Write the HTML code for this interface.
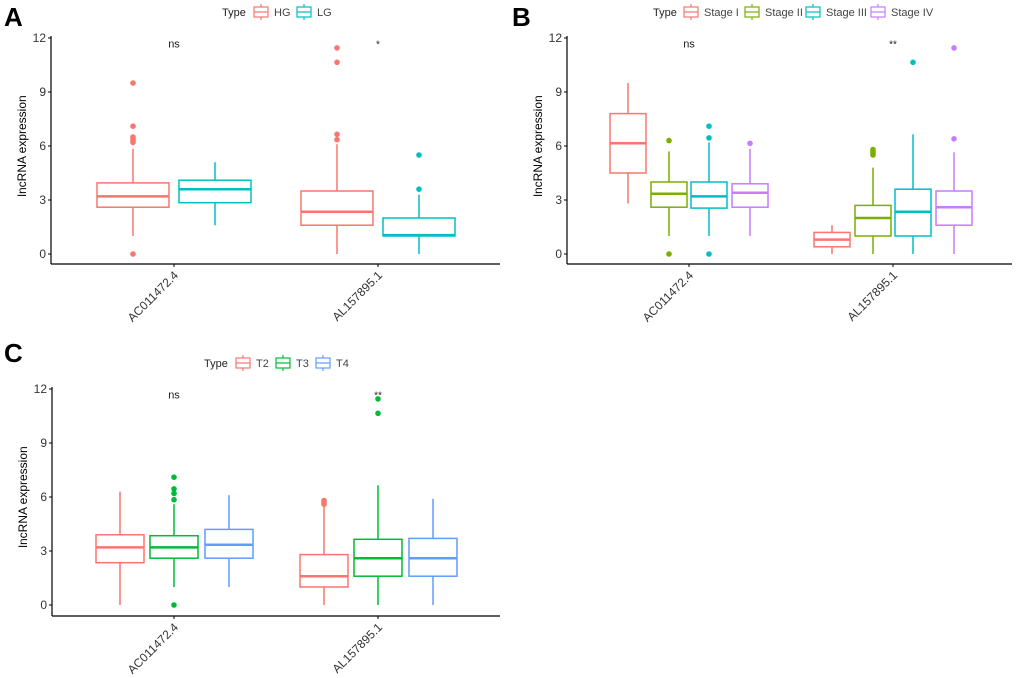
<!DOCTYPE html>
<html><head><meta charset="utf-8"><style>
body{margin:0;background:#fff;font-family:"Liberation Sans",Arial,sans-serif}
svg{display:block}
</style></head><body>
<svg id="fig" width="1020" height="678" viewBox="0 0 1020 678" xmlns="http://www.w3.org/2000/svg"></svg>
<script>
const genes = ["AC011472.4","AL157895.1"];
const yTicks = [0,3,6,9,12];
// stats per group: [low whisker, q1, median, q3, high whisker]
const aNames = ["HG","LG"];
const aStats = [[[1.0,2.6,3.2,3.95,5.85],[1.6,2.85,3.6,4.1,5.1]],[[0,1.6,2.35,3.5,6.1],[0,1.0,1.05,2.0,3.3]]];
const aOut = [[[0,6.2,6.3,6.4,6.5,7.1,9.5],[]],[[6.35,6.65,10.65,11.45],[3.6,5.5]]];
const aSig = ["ns","*"];
const bNames = ["Stage I","Stage II","Stage III","Stage IV"];
const bStats = [[[2.8,4.5,6.15,7.8,9.5],[1.0,2.6,3.35,4.0,5.7],[1.0,2.55,3.2,4.0,6.2],[1.0,2.6,3.4,3.9,5.85]],[[0,0.4,0.8,1.2,1.6],[0,1.0,2.0,2.7,4.8],[0,1.0,2.35,3.6,6.65],[0,1.6,2.6,3.5,5.65]]];
const bOut = [[[],[0,6.3],[0,6.45,7.1],[6.15]],[[],[5.5,5.6,5.7,5.8],[10.65],[6.4,11.45]]];
const bSig = ["ns","**"];
const cNames = ["T2","T3","T4"];
const cStats = [[[0,2.35,3.2,3.9,6.3],[1.0,2.6,3.2,3.85,5.6],[1.0,2.6,3.35,4.2,6.1]],[[0,1.0,1.6,2.8,5.5],[0,1.6,2.6,3.65,6.65],[0,1.6,2.6,3.7,5.9]]];
const cOut = [[[],[0,5.85,6.2,6.45,7.1],[]],[[5.6,5.7,5.8],[10.65,11.45],[]]];
const cSig = ["ns","**"];

const NS="http://www.w3.org/2000/svg";
const svg=document.getElementById('fig');
function mk(tag,attrs,parent,text){const e=document.createElementNS(NS,tag);for(const k in attrs)e.setAttribute(k,attrs[k]);if(text!==undefined)e.textContent=text;(parent||svg).appendChild(e);return e;}

function panel(cfg){
  const g=mk('g',{});
  
  
  const y=v=>cfg.y0-(cfg.y0-cfg.y12)*v/12;
  const x=i=>cfg.cx[i];
  const t=mk('text',{x:cfg.lx,y:cfg.ly,'font-size':26,'font-weight':'bold',fill:'#000'},g,cfg.letter);
  
  
  // legend
  const lg=mk('g',{},g);
  
  
  mk('text',{x:cfg.legX,y:cfg.legY+4,'font-size':11,fill:'#222'},lg,'Type');
  cfg.names.forEach((n,k)=>{
    const kx=cfg.legKeys[k];
    const e=mk('g',{},lg);
    
    
    const c=cfg.colors[k];
    mk('line',{x1:kx+7,x2:kx+7,y1:cfg.legY-8,y2:cfg.legY+8,stroke:c,'stroke-width':1.2},e);
    mk('rect',{x:kx,y:cfg.legY-5,width:14,height:10,fill:'#fff',stroke:c,'stroke-width':1.2},e);
    mk('line',{x1:kx,x2:kx+14,y1:cfg.legY,y2:cfg.legY,stroke:c,'stroke-width':1.2},e);
    mk('text',{x:kx+20,y:cfg.legY+4,'font-size':11,fill:'#444'},e,n);
  });
  // axes
  const ax=mk('g',{},g);
  
  
  mk('line',{x1:cfg.axL,x2:cfg.axL,y1:cfg.y12-2,y2:cfg.axB,stroke:'#000','stroke-width':1.2},ax);
  yTicks.forEach(v=>{
    mk('line',{x1:cfg.axL-3,x2:cfg.axL,y1:y(v),y2:y(v),stroke:'#000'},ax);
    mk('text',{x:cfg.axL-5,y:y(v)+4,'font-size':12,'text-anchor':'end',fill:'#333'},ax,v);
  });
  const yt=mk('text',{x:0,y:0,'font-size':12,'text-anchor':'middle',fill:'#000',transform:`translate(${cfg.axL-25},${(cfg.y0+cfg.y12)/2}) rotate(-90)`},g,'lncRNA expression');
  
  
  const xa=mk('g',{},g);
  
  
  mk('line',{x1:cfg.axL,x2:cfg.axR,y1:cfg.axB,y2:cfg.axB,stroke:'#000','stroke-width':1.2},xa);
  genes.forEach((gn,i)=>{
    mk('line',{x1:x(i),x2:x(i),y1:cfg.axB,y2:cfg.axB+3,stroke:'#000'},xa);
    mk('text',{x:0,y:0,'font-size':12,'text-anchor':'end',fill:'#333',transform:`translate(${x(i)+5},${cfg.axB+12}) rotate(-45)`},xa,gn);
    const s=mk('text',{x:x(i),y:y(11.7)+4,'font-size':cfg.sig[i]==='ns'?11:10,'text-anchor':'middle',fill:'#222'},g,cfg.sig[i]);
    
    
    cfg.stats[i].forEach((st,k)=>{
      const c=cfg.colors[k];
      const cx=x(i)+cfg.offs[k], w=cfg.bw;
      const b=mk('g',{},g);
      
      
      mk('line',{x1:cx,x2:cx,y1:y(st[0]),y2:y(st[1]),stroke:c,'stroke-width':1.5},b);
      mk('line',{x1:cx,x2:cx,y1:y(st[3]),y2:y(st[4]),stroke:c,'stroke-width':1.5},b);
      mk('rect',{x:cx-w/2,y:y(st[3]),width:w,height:y(st[1])-y(st[3]),fill:'#fff',stroke:c,'stroke-width':1.5},b);
      mk('line',{x1:cx-w/2,x2:cx+w/2,y1:y(st[2]),y2:y(st[2]),stroke:c,'stroke-width':2.5},b);
      cfg.out[i][k].forEach(v=>mk('circle',{cx:cx,cy:y(v),r:2.8,fill:c},b));
    });
  });
}
panel({letter:'A',lx:4,ly:26,y0:254,y12:38,axL:51,axR:500,axB:264,cx:[174,378],offs:[-41,41],bw:72,
  names:aNames,stats:aStats,out:aOut,sig:aSig,colors:['#F8766D','#00BFC4'],
  legX:222,legY:12,legKeys:[254,297]});
panel({letter:'B',lx:512,ly:26,y0:254,y12:38,axL:567,axR:1012,axB:264,cx:[689,893],offs:[-61,-20,20,61],bw:36,
  names:bNames,stats:bStats,out:bOut,sig:bSig,colors:['#F8766D','#7CAE00','#00BFC4','#C77CFF'],
  legX:653,legY:12,legKeys:[684,745,806,871]});
panel({letter:'C',lx:4,ly:362,y0:605,y12:389,axL:52,axR:500,axB:616,cx:[174,378],offs:[-54,0,55],bw:48,
  names:cNames,stats:cStats,out:cOut,sig:cSig,colors:['#F8766D','#00BA38','#619CFF'],
  legX:204,legY:363,legKeys:[236,276,316]});
</script>
</body></html>
